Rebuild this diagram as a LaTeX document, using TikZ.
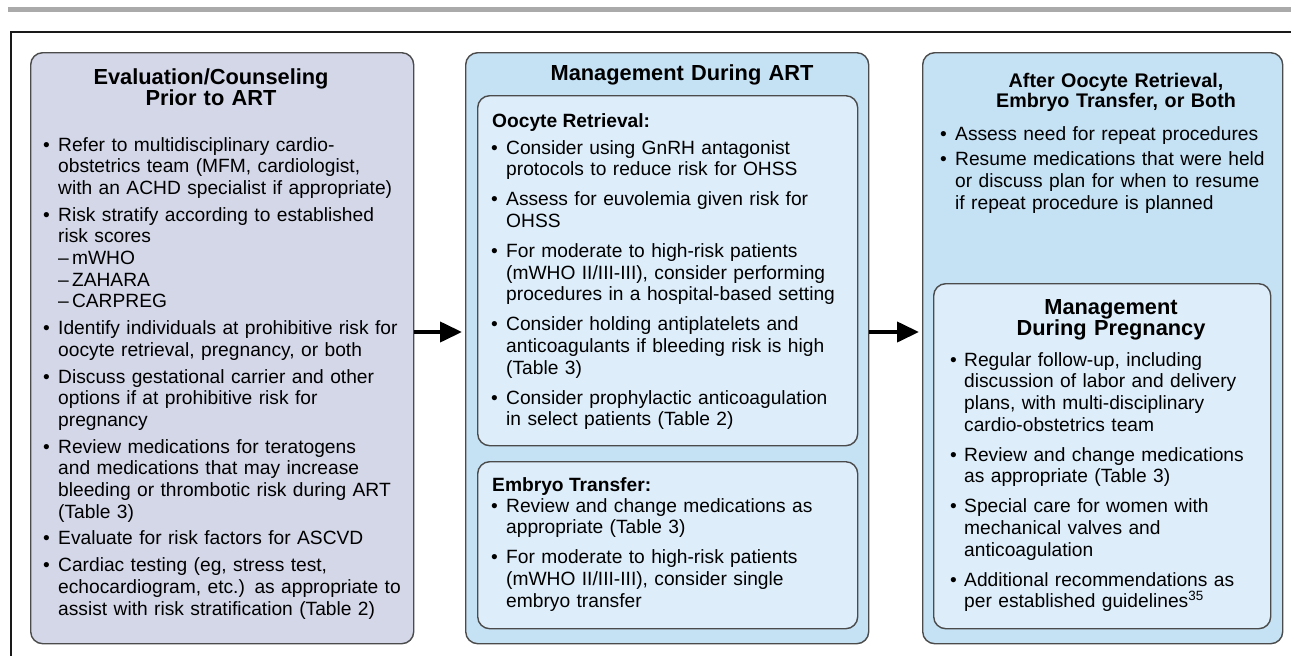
\documentclass[tikz,border=0pt]{standalone}
\usepackage{fontspec}
\setmainfont{Liberation Sans}
\usetikzlibrary{arrows.meta,calc}
\definecolor{lavfill}{RGB}{211,215,232}
\definecolor{bluefill}{RGB}{197,225,244}
\definecolor{innerfill}{RGB}{221,237,250}
\definecolor{edgegrey}{RGB}{75,75,75}
\definecolor{bargrey}{RGB}{170,170,170}
\newcommand\bitem[2][15pt]{\hangindent=#1\hangafter=1\noindent\makebox[#1][l]{\textbullet}#2\par}
\begin{document}
\begin{tikzpicture}[x=1pt,y=-1pt,
  bx/.style={draw=edgegrey,line width=1.4pt,rounded corners=12pt,anchor=north west,inner sep=0pt},
  ttl/.style={anchor=base,inner sep=0pt,align=center,text width=340pt,font=\bfseries\fontsize{21.8}{21.5}\selectfont},
  subhd/.style={anchor=base west,inner sep=0pt,font=\bfseries\fontsize{19.2}{21.7}\selectfont},
  body/.style={anchor=base west,inner sep=0pt,align=left,text width=380pt,font=\fontsize{19.2}{21.7}\selectfont},
  arr/.style={line width=4pt,-{Triangle[length=22pt,width=20pt]},shorten >=3pt}
]
\useasboundingbox (0,0) rectangle (1291,656);
% frame
\draw[bargrey,line width=5pt] (8,9.5) -- (1291,9.5);
\draw[black!90,line width=2pt] (1291,32) -- (11,32) -- (11,656);

% boxes
\node[bx,fill=lavfill,minimum width=383pt,minimum height=591pt] (left) at (30,52) {};
\node[bx,fill=bluefill,minimum width=403pt,minimum height=591pt] (mid) at (465,52) {};
\node[bx,fill=innerfill,minimum width=380pt,minimum height=350pt] (oocyte) at (477,95) {};
\node[bx,fill=innerfill,minimum width=380pt,minimum height=167pt] (embryo) at (477,461) {};
\node[bx,fill=bluefill,minimum width=360pt,minimum height=591pt] (right) at (922,52) {};
\node[bx,fill=innerfill,minimum width=337pt,minimum height=345pt] (preg) at (933,283) {};

% arrows
\coordinate (ay) at (0,332);
\draw[arr] (left.east |- ay) -- (mid.west |- ay);
\draw[arr] (mid.east |- ay) -- (right.west |- ay);

% left box text
\node[ttl] (lefttitle) at (211,84) {Evaluation/Counseling\\Prior to ART};
\node[body] (lefttext) at (43,151) {\setlength{\parskip}{5pt}%
\bitem{Refer to multidisciplinary cardio-\newline obstetrics team (MFM, cardiologist,\newline with an ACHD specialist if appropriate)}%
\bitem{Risk stratify according to established\newline risk scores\newline –\,mWHO\newline –\,ZAHARA\newline –\,CARPREG}%
\bitem{Identify individuals at prohibitive risk for\newline oocyte retrieval, pregnancy, or both}%
\bitem{Discuss gestational carrier and other\newline options if at prohibitive risk for\newline pregnancy}%
\bitem{Review medications for teratogens\newline and medications that may increase\newline bleeding or thrombotic risk during ART\newline (Table 3)}%
\bitem{Evaluate for risk factors for ASCVD}%
\bitem{Cardiac testing (eg, stress test,\newline echocardiogram, etc.) as appropriate to\newline assist with risk stratification (Table 2)}};

% middle box text
\node[ttl] (midtitle) at (682,80) {Management During ART};
\node[subhd] (oohd) at (492,127) {Oocyte Retrieval:};
\node[body] (ootext) at (491,154) {\setlength{\parskip}{8.3pt}%
\bitem{Consider using GnRH antagonist\newline protocols to reduce risk for OHSS}%
\bitem{Assess for euvolemia given risk for\newline OHSS}%
\bitem{For moderate to high-risk patients\newline (mWHO II/III-III), consider performing\newline procedures in a hospital-based setting}%
\bitem{Consider holding antiplatelets and\newline anticoagulants if bleeding risk is high\newline (Table 3)}%
\bitem{Consider prophylactic anticoagulation\newline in select patients (Table 2)}};
\node[subhd] (embhd) at (492,491) {Embryo Transfer:};
\node[body] (embtext) at (491,512) {\setlength{\parskip}{8.3pt}%
\bitem{Review and change medications as\newline appropriate (Table 3)}%
\bitem{For moderate to high-risk patients\newline (mWHO II/III-III), consider single\newline embryo transfer}};

% right box text
\node[ttl,font=\bfseries\fontsize{19.7}{20}\selectfont] (righttitle) at (1116,87) {After Oocyte Retrieval,\\Embryo Transfer, or Both};
\node[body] (righttext) at (940,140) {\setlength{\parskip}{4pt}%
\bitem{Assess need for repeat procedures}%
\bitem{Resume medications that were held\newline or discuss plan for when to resume\newline if repeat procedure is planned}};
\node[ttl] (pregtitle) at (1111,314) {Management\\During Pregnancy};
\node[body] (pregtext) at (950,366) {\setlength{\parskip}{8.3pt}%
\bitem[14pt]{Regular follow-up, including\newline discussion of labor and delivery\newline plans, with multi-disciplinary\newline cardio-obstetrics team}%
\bitem[14pt]{Review and change medications\newline as appropriate (Table 3)}%
\bitem[14pt]{Special care for women with\newline mechanical valves and\newline anticoagulation}%
\bitem[14pt]{Additional recommendations as\newline per established guidelines\textsuperscript{35}}};
\end{tikzpicture}
\end{document}
